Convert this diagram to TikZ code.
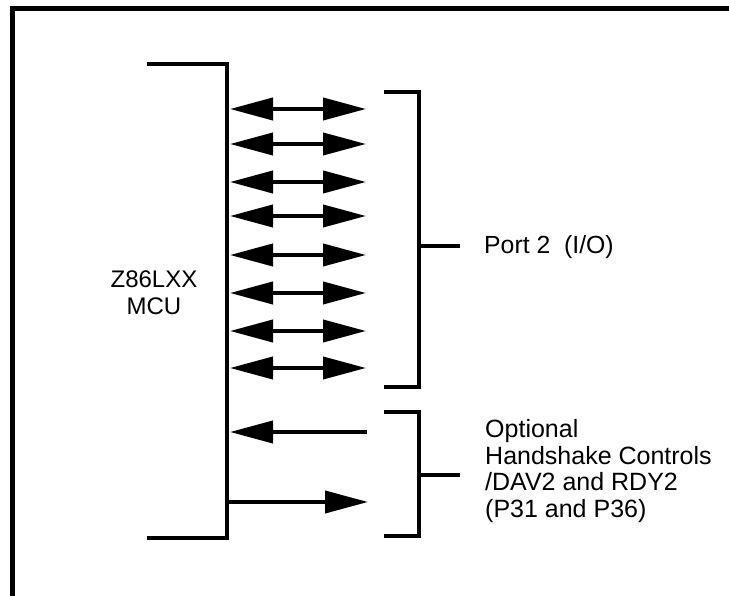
\documentclass[tikz,border=0pt]{standalone}
\usepackage{fontspec}
\setmainfont{Liberation Sans}
\usetikzlibrary{arrows.meta}
\begin{document}
\begin{tikzpicture}[x=1pt,y=-1pt,line join=miter,
  frame/.style={line width=5pt},
  bracket/.style={line width=4pt},
  sig/.style={line width=4pt},
  tipL/.style={{Triangle[length=43pt,width=22pt]}-},
  tipR/.style={-{Triangle[length=43pt,width=22pt]}},
  tipLR/.style={{Triangle[length=43pt,width=22pt]}-{Triangle[length=43pt,width=22pt]}},
  lbl/.style={inner sep=0pt}]
\useasboundingbox (0,0) rectangle (729,596);
% outer frame (top and left edges)
\draw[frame] (12,596) -- (12,8.5) -- (729,8.5);
% MCU bracket
\draw[bracket] (147,64) -- (227,64) -- (227,538) -- (147,538);
\node[lbl,align=center,font=\fontsize{24}{27}\selectfont] (mcu) at (154,293) {Z86LXX\\MCU};
% Port 2 bracket
\draw[bracket] (384,92) -- (419,92) -- (419,387) -- (384,387);
\draw[bracket] (419,246) -- (460,246);
\node[lbl,anchor=west,font=\fontsize{24.8}{29}\selectfont] (port) at (484,247) {Port 2\ \ (I/O)};
% Handshake bracket
\draw[bracket] (384,412) -- (419,412) -- (419,536) -- (384,536);
\draw[bracket] (419,475) -- (460,475);
\node[lbl,anchor=west,align=left,font=\fontsize{25}{26.7}\selectfont] (hs) at (485,471) {Optional\\Handshake Controls\\/DAV2 and RDY2\\(P31 and P36)};
% bidirectional port lines
\foreach \i/\y in {1/109,2/144,3/182,4/216,5/255,6/293,7/331,8/368}{
  \coordinate (L\i) at (230,\y);
  \coordinate (R\i) at (366,\y);
  \draw[sig,tipLR] (L\i) -- (R\i);
}
% handshake lines
\coordinate (hL1) at (230,432);
\coordinate (hR1) at (367,432);
\draw[sig,tipL] (hL1) -- (hR1);
\coordinate (hL2) at (227,502);
\coordinate (hR2) at (368,502);
\draw[sig,tipR] (hL2) -- (hR2);
\end{tikzpicture}
\end{document}
